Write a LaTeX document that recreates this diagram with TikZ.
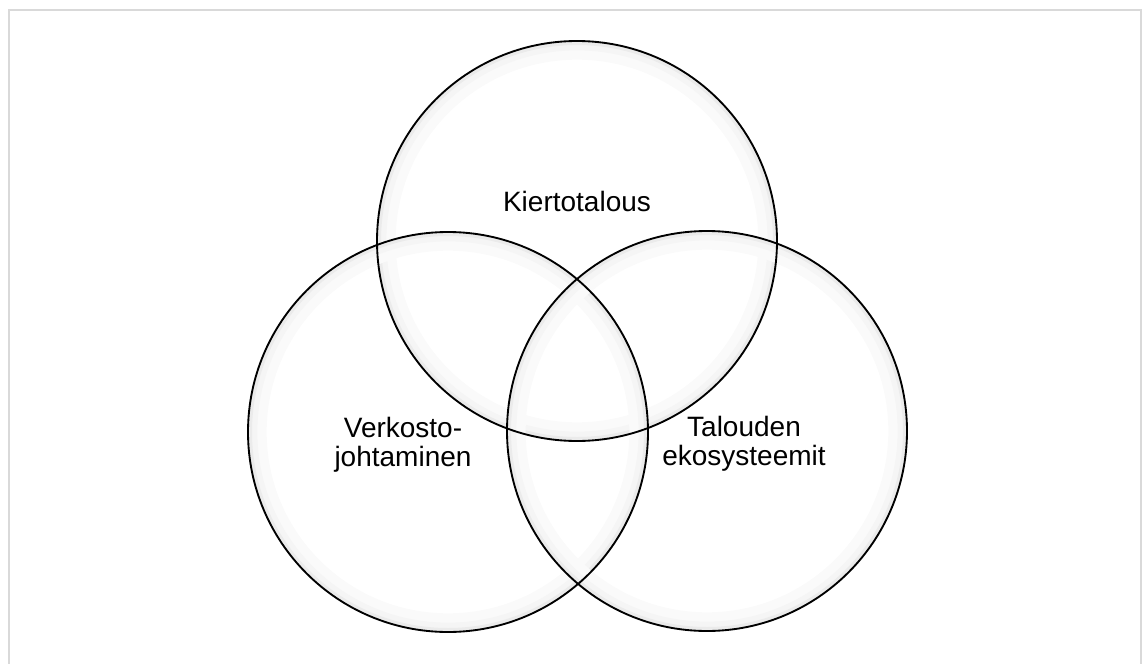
\documentclass[tikz,border=0pt]{standalone}
\usepackage{fontspec}
\setmainfont{Liberation Sans}
\begin{document}
\begin{tikzpicture}[x=0.75pt,y=-0.75pt,
    venn/.style={circle,draw=black,line width=1.4pt,minimum size=300pt,inner sep=0pt},
    glow/.style={circle,draw=black!#1,inner sep=0pt},
    lbl/.style={font=\fontsize{21}{21.5}\selectfont,align=center}]
    \useasboundingbox (0,0) rectangle (1143,664);
    % frame
    \draw[black!15,line width=1.5pt] (9,700) -- (9,9.5) -- (1141,9.5) -- (1141,700);
    % soft inner shadow of the circles
    \foreach \cx/\cy in {577/241,448/432,707/431}{
      \node[glow=2,line width=14pt,minimum size=286pt] at (\cx,\cy) {};
      \node[glow=4,line width=7pt,minimum size=293pt] at (\cx,\cy) {};
      \node[glow=8,line width=3pt,minimum size=297pt] at (\cx,\cy) {};
    }
    % circles
    \node[venn] (kt) at (577,241) {};
    \node[venn] (vj) at (448,432) {};
    \node[venn] (te) at (707,431) {};
    % labels
    \node[lbl] (ktl) at (577,201) {Kiertotalous};
    \node[lbl] (vjl) at (403,445) {Verkosto-\\johtaminen};
    \node[lbl] (tel) at (744,444) {Talouden\\ekosysteemit};
\end{tikzpicture}
\end{document}
